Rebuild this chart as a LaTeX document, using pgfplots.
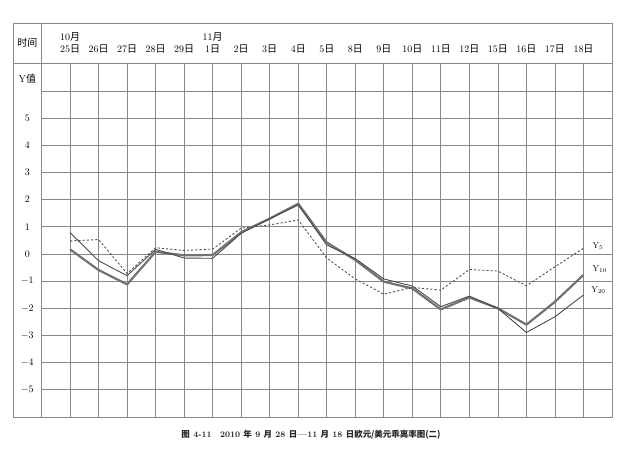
\documentclass[border=0pt]{standalone}
\usepackage{fontspec}
\usepackage{pgfplots}
\pgfplotsset{compat=1.18}
\newfontfamily\cjk{Noto Sans CJK SC}
\definecolor{gridc}{HTML}{888888}
\definecolor{yfive}{HTML}{505050}
\definecolor{yten}{HTML}{727272}
\definecolor{ytwenty}{HTML}{4A4A4A}
\newcommand\ri{{\cjk 日}}
\begin{document}
\begin{tikzpicture}
\useasboundingbox (0,0) rectangle (622bp,450bp);
\begin{axis}[
  at={(13bp,33bp)}, anchor=south west,
  scale only axis, width=599bp, height=394bp,
  xmin=-1, xmax=20, ymin=-6, ymax=8.5,
  xtick=\empty, ytick=\empty,
  axis line style={gridc, line width=0.8bp},
  clip=false,
  every node/.style={font=\fontsize{8}{9}\selectfont, text=black!80},
]
% grid
\draw[gridc, line width=0.8bp] (axis cs:0,-6) -- (axis cs:0,8.5);
\draw[gridc, line width=0.8bp] (axis cs:-1,7) -- (axis cs:20,7);
\pgfplotsinvokeforeach{1,...,19}{\draw[gridc, line width=0.75bp] (axis cs:#1,-6) -- (axis cs:#1,7);}
\pgfplotsinvokeforeach{-5,...,6}{\draw[gridc, line width=0.75bp] (axis cs:0,#1) -- (axis cs:20,#1);}
% y labels
\pgfplotsinvokeforeach{-5,...,5}{\node at (axis cs:-0.5,#1) {$#1$};}
\node at (axis cs:-0.5,7.78) {\cjk 时间};
\node at (axis cs:-0.5,6.46) {Y{\cjk 值}};
% header
\node at (axis cs:1,8.0) {10{\cjk 月}};
\node at (axis cs:6,8.0) {11{\cjk 月}};
\node at (axis cs:1,7.53) {25\ri};
\node at (axis cs:2,7.53) {26\ri};
\node at (axis cs:3,7.53) {27\ri};
\node at (axis cs:4,7.53) {28\ri};
\node at (axis cs:5,7.53) {29\ri};
\node at (axis cs:6,7.53) {1\ri};
\node at (axis cs:7,7.53) {2\ri};
\node at (axis cs:8,7.53) {3\ri};
\node at (axis cs:9,7.53) {4\ri};
\node at (axis cs:10,7.53) {5\ri};
\node at (axis cs:11,7.53) {8\ri};
\node at (axis cs:12,7.53) {9\ri};
\node at (axis cs:13,7.53) {10\ri};
\node at (axis cs:14,7.53) {11\ri};
\node at (axis cs:15,7.53) {12\ri};
\node at (axis cs:16,7.53) {15\ri};
\node at (axis cs:17,7.53) {16\ri};
\node at (axis cs:18,7.53) {17\ri};
\node at (axis cs:19,7.53) {18\ri};
% Y10 thick
\addplot[yten, line width=2.2bp, line join=round] coordinates {
(1,0.17) (2,-0.59) (3,-1.12) (4,0.08) (5,-0.05) (6,-0.04) (7,0.80) (8,1.30) (9,1.85)
(10,0.42) (11,-0.22) (12,-1.02) (13,-1.27) (14,-2.04) (15,-1.60) (16,-2.00) (17,-2.60) (18,-1.76) (19,-0.77)};
% Y20 thin
\addplot[ytwenty, line width=0.9bp, line join=round] coordinates {
(1,0.79) (2,-0.25) (3,-0.80) (4,0.17) (5,-0.15) (6,-0.16) (7,0.76) (8,1.30) (9,1.80)
(10,0.33) (11,-0.17) (12,-0.92) (13,-1.18) (14,-1.94) (15,-1.55) (16,-2.00) (17,-2.89) (18,-2.31) (19,-1.51)};
% Y5 dashed
\addplot[yfive, line width=0.9bp, dash pattern=on 2.2bp off 2bp] coordinates {
(1,0.48) (2,0.53) (3,-0.72) (4,0.23) (5,0.13) (6,0.18) (7,0.95) (8,1.07) (9,1.25)
(10,-0.15) (11,-0.92) (12,-1.48) (13,-1.23) (14,-1.33) (15,-0.57) (16,-0.63) (17,-1.17) (18,-0.47) (19,0.21)};
% series labels
\node[anchor=west, font=\fontsize{8.5}{9}\selectfont] at (axis cs:19.2,0.3) {$\mathrm{Y}_{5}$};
\node[anchor=west, font=\fontsize{8.5}{9}\selectfont] at (axis cs:19.2,-0.55) {$\mathrm{Y}_{10}$};
\node[anchor=west, font=\fontsize{8.5}{9}\selectfont] at (axis cs:19.15,-1.33) {$\mathrm{Y}_{20}$};
\end{axis}
\node[font=\fontsize{8.5}{10}\selectfont, text=black!85] at (311bp,15bp)
  {\bfseries{\cjk 图} 4-11\hspace{1em}2010 {\cjk 年} 9 {\cjk 月} 28 {\cjk 日}---11 {\cjk 月} 18 {\cjk 日欧元/美元乖离率图(二)}};
\end{tikzpicture}
\end{document}
